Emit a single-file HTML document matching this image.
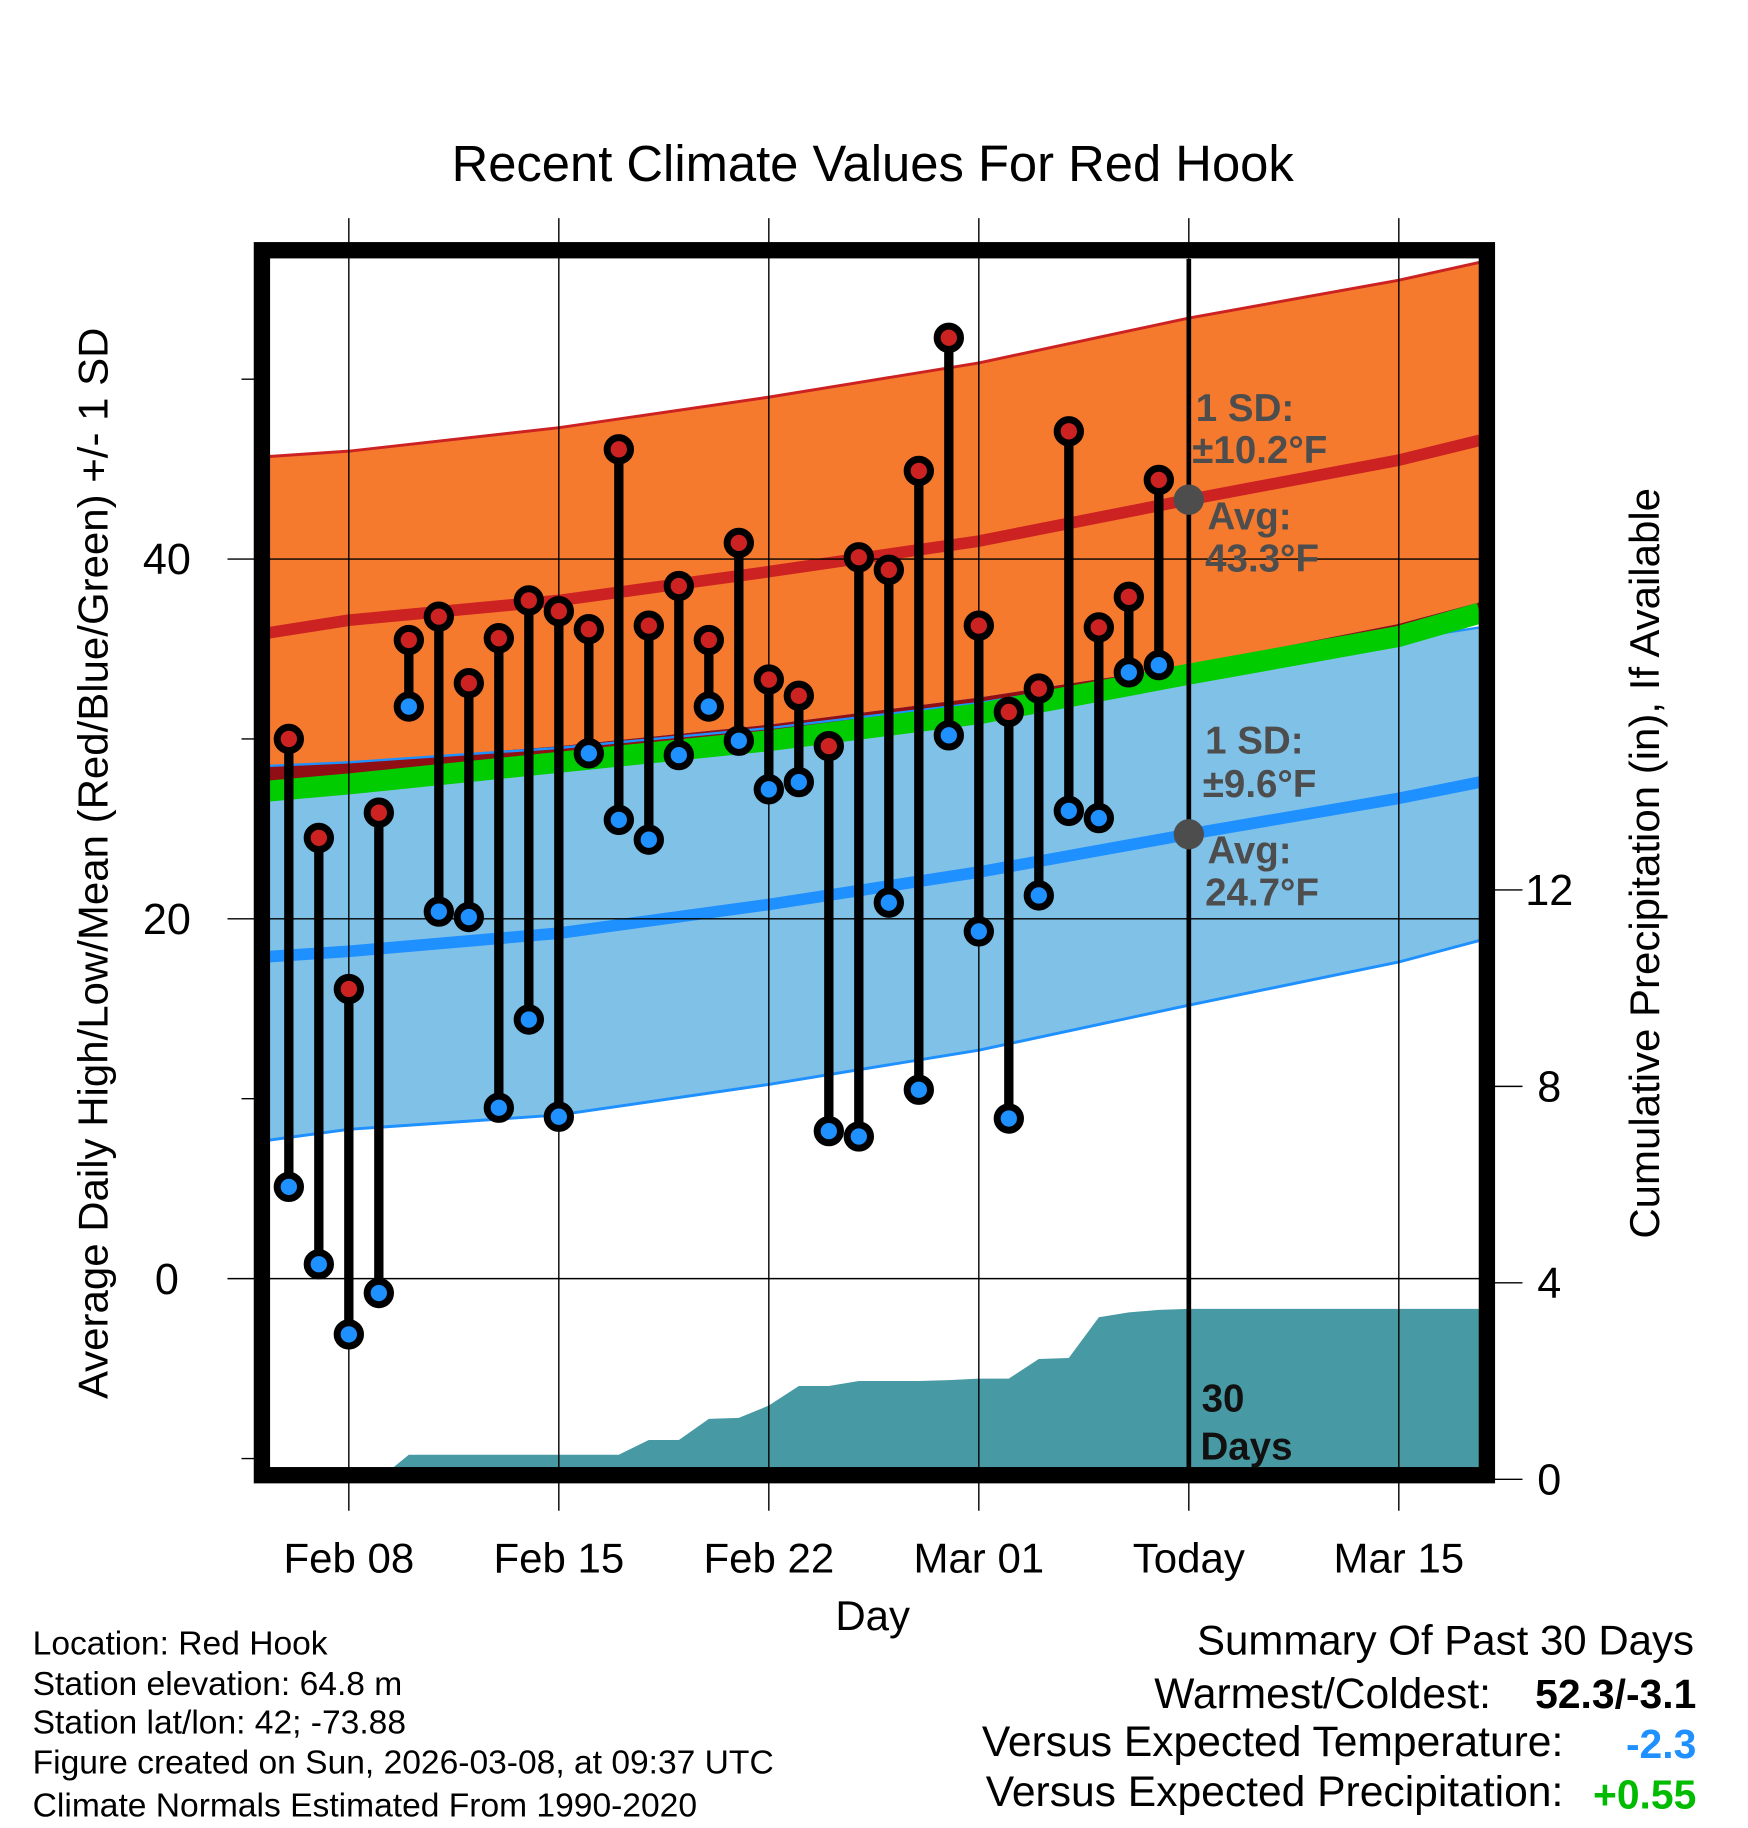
<!DOCTYPE html>
<html><head><meta charset="utf-8"><style>
html,body{margin:0;padding:0;background:#fff;}
svg{display:block;font-family:"Liberation Sans",sans-serif;}
</style></head><body>
<svg id="chart" width="1748" height="1828" viewBox="0 0 1498.3 1566.9" preserveAspectRatio="none" xmlns="http://www.w3.org/2000/svg">
<text x="748" y="155" font-size="43.5" text-anchor="middle">Recent Climate Values For Red Hook</text>
<g id="layer"></g>
</svg>
<script>
// ---- data ----
const obsDays = [];
for (let i = -2; i <= 27; i++) obsDays.push(i); // day offsets from Feb 08
const highs = [30.0,24.5,16.1,25.9,35.5,36.8,33.1,35.6,37.7,37.1,36.1,46.1,36.3,38.5,35.5,40.9,33.3,32.4,29.6,40.1,39.4,44.9,52.3,36.3,31.5,32.8,47.1,36.2,37.9,44.4];
const lows  = [5.1,0.8,-3.1,-0.8,31.8,20.4,20.1,9.5,14.4,9.0,29.2,25.5,24.4,29.1,31.8,29.9,27.2,27.6,8.2,7.9,20.9,10.5,30.2,19.3,8.9,21.3,26.0,25.6,33.7,34.1];
const precip = [0,0,0,0,0.5,0.5,0.5,0.5,0.5,0.5,0.5,0.5,0.8,0.8,1.23,1.25,1.5,1.9,1.9,2.0,2.0,2.0,2.02,2.05,2.05,2.45,2.47,3.3,3.4,3.45,3.47];
const normDays   = [-2.66,0,7,14,21,28,35,37.7];
const highAvg    = [35.9,36.6,37.7,39.3,41.0,43.3,45.5,46.6];
const highUpper  = [45.7,46.0,47.3,49.0,50.9,53.4,55.5,56.5];
const highLower  = [28.5,28.7,29.6,30.8,32.3,34.1,36.4,37.6];
const meanNorm   = [27.1,27.5,28.7,29.9,31.4,33.6,35.7,37.0];
const lowUpper   = [28.5,28.7,29.5,30.6,32.0,33.9,35.5,36.2];
const lowAvg     = [17.9,18.2,19.2,20.8,22.6,24.7,26.7,27.6];
const lowLower   = [7.7,8.3,9.1,10.8,12.7,15.2,17.6,18.8];
const xTickDays  = [0,7,14,21,28,35];
const xTickLabels= ["Feb 08","Feb 15","Feb 22","Mar 01","Today","Mar 15"];
const yTicks     = [0,20,40];
const yMinor     = [-10,10,30,50];
const pTicks     = [0,4,8,12];
const todayDay = 28;

// ---- axes ----
const X = d => 299 + d*180/7;
const Y = v => 1096 - v*15.42;
const P = v => 1268 - v*42.1;
const L=231,R=1268,T=222,B=1260;
const NS="http://www.w3.org/2000/svg";
const layer=document.getElementById('layer');
function mk(tag,attrs,parent){const e=document.createElementNS(NS,tag);for(const k in attrs)e.setAttribute(k,attrs[k]);(parent||layer).appendChild(e);return e;}
function interp(xs,ys,x){
  let i=0;while(i<xs.length-2&&x>xs[i+1])i++;
  const t=(x-xs[i])/(xs[i+1]-xs[i]);
  return ys[i]+(ys[i+1]-ys[i])*t;
}
const samp=normDays.slice();
const curve=arr=>samp.map(d=>[X(d),Y(interp(normDays,arr,d))]);
const pts=a=>a.map(p=>p[0].toFixed(1)+','+p[1].toFixed(1)).join(' ');
const defs=mk('defs',{});const cp=mk('clipPath',{id:'pc'},defs);mk('rect',{x:L,y:T,width:R-L,height:B-T},cp);
const g=mk('g',{'clip-path':'url(#pc)'});
function bandG(up,lo,fill,name){const e=mk('polygon',{points:pts(curve(up).concat(curve(lo).reverse())),fill:fill},g);}
function lineG(arr,color,w,name){const e=mk('polyline',{points:pts(curve(arr)),fill:'none',stroke:color,'stroke-width':w,'stroke-linejoin':'round'},g);}
bandG(lowUpper,lowLower,'#80c1e8','low-sd-band');
bandG(highUpper,highLower,'#f57a2e','high-sd-band');
bandG(highLower,meanNorm,'#900f15','overlap-band');
lineG(lowUpper,'#1e90ff',2,'low-upper-edge');
lineG(lowLower,'#1e90ff',2.5,'low-lower-edge');
lineG(highUpper,'#cc2222',2.5,'high-upper-edge');
lineG(meanNorm,'#00cc00',18,'mean-normal-line');
lineG(highAvg,'#cc2222',10,'high-average-line');
lineG(lowAvg,'#1e90ff',10,'low-average-line');
{
  let d='M'+X(obsDays[0]).toFixed(1)+','+B;
  precip.forEach((v,i)=>{d+=' L'+X(obsDays[0]+i).toFixed(1)+','+P(v).toFixed(1);});
  d+=' L'+R+','+P(precip[precip.length-1]).toFixed(1)+' L'+R+','+B+' Z';
  const e=mk('path',{d:d,fill:'#4799a3'},g);
  
  
}
xTickDays.forEach(d=>{const e=mk('line',{x1:X(d),x2:X(d),y1:187,y2:1295,stroke:'#000','stroke-width':1.2});});
yTicks.forEach(v=>{const e=mk('line',{x1:195,x2:R,y1:Y(v),y2:Y(v),stroke:'#000','stroke-width':1.2});});
yMinor.forEach(v=>{const e=mk('line',{x1:207,x2:L,y1:Y(v),y2:Y(v),stroke:'#000','stroke-width':1.2});});
pTicks.forEach(v=>{const e=mk('line',{x1:1270,x2:1305,y1:P(v),y2:P(v),stroke:'#000','stroke-width':1.2});});
{const e=mk('line',{x1:X(todayDay),x2:X(todayDay),y1:T,y2:B,stroke:'#000','stroke-width':4});}
obsDays.forEach((d,i)=>{
  const x=X(d);
  const s=mk('line',{x1:x,x2:x,y1:Y(highs[i]),y2:Y(lows[i]),stroke:'#000','stroke-width':8});
  
  
  [[highs[i],'#cc2222','high-point'],[lows[i],'#1e90ff','low-point']].forEach(([v,c,n])=>{
    const o=mk('circle',{cx:x,cy:Y(v),r:10,fill:c,stroke:'#000','stroke-width':6});
    
    
  });
});
{const e=mk('rect',{x:224.5,y:214.5,width:1050,height:1050,fill:'none',stroke:'#000','stroke-width':14});}
[[43.3,'high-avg-marker'],[24.7,'low-avg-marker']].forEach(([v,n])=>{const e=mk('circle',{cx:X(todayDay),cy:Y(v),r:13,fill:'#4d4d4d'});});
function txt(s,x,y,size,attrs,name){const e=mk('text',Object.assign({x:x,y:y,'font-size':size},attrs||{}));e.textContent=s;return e;}
const ann={fill:'#4d4d4d','font-weight':'bold'};
txt('1 SD:',1025,361,33,ann,'high-sd-label');
txt('±10.2°F',1022,397,33,ann,'high-sd-value');
txt('Avg:',1035,454,33,ann,'high-avg-label');
txt('43.3°F',1033,490,33,ann,'high-avg-value');
txt('1 SD:',1033,646,33,ann,'low-sd-label');
txt('±9.6°F',1031,683,33,ann,'low-sd-value');
txt('Avg:',1035,740,33,ann,'low-avg-label');
txt('24.7°F',1033,776,33,ann,'low-avg-value');
txt('30',1030,1210,33,{'font-weight':'bold',fill:'#111'},'days-count');
txt('Days',1029,1251,33,{'font-weight':'bold',fill:'#111'},'days-label');
xTickDays.forEach((d,i)=>txt(xTickLabels[i],X(d),1348,36,{'text-anchor':'middle'},'x-tick-label'));
yTicks.forEach(v=>txt(String(v),143,Y(v)+13,37,{'text-anchor':'middle'},'y-tick-label'));
pTicks.forEach(v=>txt(String(v),1328,P(v)+13,37,{'text-anchor':'middle'},'precip-tick-label'));
txt('Day',748,1397,36,{'text-anchor':'middle'},'x-axis-title');
txt('Average Daily High/Low/Mean (Red/Blue/Green) +/- 1 SD',92,740,36,{'text-anchor':'middle',transform:'rotate(-90 92 740)'},'y-axis-title');
txt('Cumulative Precipitation (in), If Available',1422,740,36,{'text-anchor':'middle',transform:'rotate(-90 1422 740)'},'precip-axis-title');
['Location: Red Hook','Station elevation: 64.8 m','Station lat/lon: 42; -73.88','Figure created on Sun, 2026-03-08, at 09:37 UTC','Climate Normals Estimated From 1990-2020'].forEach((s,i)=>txt(s,28,[1418,1453,1486,1520,1557][i],28.8,{},'footer-line'));
txt('Summary Of Past 30 Days',1452,1418,36,{'text-anchor':'end'},'summary-title');
txt('Warmest/Coldest:',1278,1464,36.5,{'text-anchor':'end'},'warmest-coldest-label');
txt('52.3/-3.1',1454,1464,35,{'text-anchor':'end','font-weight':'bold'},'warmest-coldest-value');
txt('Versus Expected Temperature:',1340,1505,36.5,{'text-anchor':'end'},'temp-anomaly-label');
txt('-2.3',1454,1507,35,{'text-anchor':'end','font-weight':'bold',fill:'#1e90ff'},'temp-anomaly-value');
txt('Versus Expected Precipitation:',1340,1548,36.5,{'text-anchor':'end'},'precip-anomaly-label');
txt('+0.55',1454,1550,35,{'text-anchor':'end','font-weight':'bold',fill:'#00bb00'},'precip-anomaly-value');
</script>
</body></html>
